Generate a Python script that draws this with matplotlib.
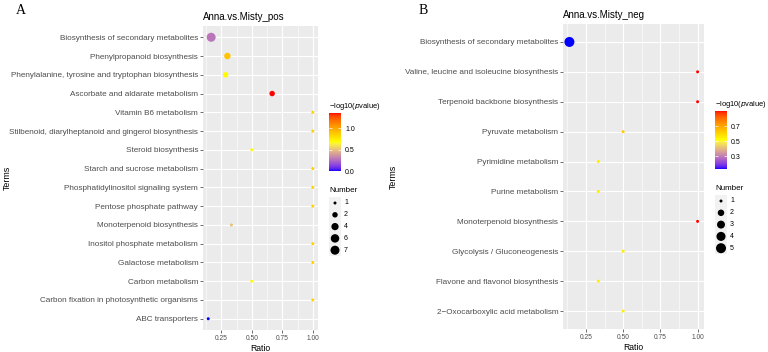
import numpy as np
import matplotlib
matplotlib.use("Agg")
import matplotlib.pyplot as plt
from matplotlib.colors import ListedColormap, Normalize
from matplotlib.cm import ScalarMappable

plt.rcParams['font.family'] = ['Liberation Sans', 'DejaVu Sans']

# ---- data ----
terms_a = ["Biosynthesis of secondary metabolites",
           "Phenylpropanoid biosynthesis",
           "Phenylalanine, tyrosine and tryptophan biosynthesis",
           "Ascorbate and aldarate metabolism",
           "Vitamin B6 metabolism",
           "Stilbenoid, diarylheptanoid and gingerol biosynthesis",
           "Steroid biosynthesis",
           "Starch and sucrose metabolism",
           "Phosphatidylinositol signaling system",
           "Pentose phosphate pathway",
           "Monoterpenoid biosynthesis",
           "Inositol phosphate metabolism",
           "Galactose metabolism",
           "Carbon metabolism",
           "Carbon fixation in photosynthetic organisms",
           "ABC transporters"]
ratio_a = [0.167, 0.30, 0.286, 0.667, 1.0, 1.0, 0.5, 1.0, 1.0, 1.0, 0.333, 1.0, 1.0, 0.5, 1.0, 0.143]
number_a = [7, 3, 2, 2, 1, 1, 1, 1, 1, 1, 1, 1, 1, 1, 1, 1]
logp_a = [0.28, 0.90, 0.70, 1.36, 0.85, 0.85, 0.70, 0.85, 0.85, 0.85, 0.50, 0.85, 0.85, 0.70, 0.85, 0.0]
size_breaks_a = [1, 2, 4, 6, 7]
cbar_ticks_a = [0.0, 0.5, 1.0]

terms_b = ["Biosynthesis of secondary metabolites",
           "Valine, leucine and isoleucine biosynthesis",
           "Terpenoid backbone biosynthesis",
           "Pyruvate metabolism",
           "Pyrimidine metabolism",
           "Purine metabolism",
           "Monoterpenoid biosynthesis",
           "Glycolysis / Gluconeogenesis",
           "Flavone and flavonol biosynthesis",
           "2\u2212Oxocarboxylic acid metabolism"]
ratio_b = [0.139, 1.0, 1.0, 0.5, 0.333, 0.333, 1.0, 0.5, 0.333, 0.5]
number_b = [5, 1, 1, 1, 1, 1, 1, 1, 1, 1]
logp_b = [0.135, 0.90, 0.90, 0.62, 0.55, 0.55, 0.90, 0.55, 0.55, 0.55]
size_breaks_b = [1, 2, 3, 4, 5]
cbar_ticks_b = [0.3, 0.5, 0.7]

x_ticks = [0.25, 0.50, 0.75, 1.00]


# ---- blue -> yellow -> red gradient, interpolated in Lab like ggplot ----
def srgb_to_lab(rgb):
    c = np.asarray(rgb, float)
    c = np.where(c > 0.04045, ((c + 0.055) / 1.055) ** 2.4, c / 12.92)
    M = np.array([[0.4124, 0.3576, 0.1805],
                  [0.2126, 0.7152, 0.0722],
                  [0.0193, 0.1192, 0.9505]])
    xyz = M @ c / np.array([0.95047, 1.0, 1.08883])
    f = np.where(xyz > 0.008856, np.cbrt(xyz), 7.787 * xyz + 16 / 116)
    return np.array([116 * f[1] - 16, 500 * (f[0] - f[1]), 200 * (f[1] - f[2])])


def lab_to_srgb(lab):
    L, a, b = lab
    fy_ = (L + 16) / 116
    f = np.array([fy_ + a / 500, fy_, fy_ - b / 200])
    xyz = np.where(f ** 3 > 0.008856, f ** 3, (f - 16 / 116) / 7.787)
    xyz = xyz * np.array([0.95047, 1.0, 1.08883])
    Mi = np.array([[3.2406, -1.5372, -0.4986],
                   [-0.9689, 1.8758, 0.0415],
                   [0.0557, -0.2040, 1.0570]])
    c = Mi @ xyz
    c = np.where(c > 0.0031308, 1.055 * np.clip(c, 0, None) ** (1 / 2.4) - 0.055, 12.92 * c)
    return np.clip(c, 0, 1)


stops = [srgb_to_lab(c) for c in [(0, 0, 1), (1, 1, 0), (1, 0, 0)]]
cols = []
for t in np.linspace(0, 1, 256):
    if t <= 0.5:
        u = t / 0.5
        lab = stops[0] * (1 - u) + stops[1] * u
    else:
        u = (t - 0.5) / 0.5
        lab = stops[1] * (1 - u) + stops[2] * u
    cols.append(lab_to_srgb(lab))
cmap = ListedColormap(cols)

fig = plt.figure(figsize=(7.68, 3.52), dpi=100)
W, H = 768, 352


def fx(px):
    return px / W


def fy(py):
    return 1 - py / H


def diam_to_s(d_px):
    return (d_px * 72 / 100) ** 2


def panel(terms, ratio, number, logp, breaks, cticks, title, letter,
          box, cbox, legy0, legdy, dmax, termx, letterx):
    l, t, r, b = box
    ax = fig.add_axes([fx(l), fy(b), fx(r - l), (b - t) / H])
    ax.set_facecolor('#EBEBEB')
    n = len(terms)
    y = np.arange(n)
    nmin, nmax = min(number), max(number)
    dmin = 3.0

    def size_of(v):
        return diam_to_s(dmin + (dmax - dmin) * np.sqrt((np.asarray(v, float) - nmin) / (nmax - nmin)))

    norm = Normalize(min(logp), max(logp))
    ax.scatter(ratio, y, s=size_of(number), c=logp, cmap=cmap, norm=norm,
               linewidths=0, zorder=3)
    xr = max(ratio) - min(ratio)
    ax.set_xlim(min(ratio) - 0.05 * xr, max(ratio) + 0.05 * xr)
    ax.set_ylim(n - 1 + 0.6, -0.6)
    ax.set_xticks(x_ticks)
    ax.set_xticklabels(["0.25", "0.50", "0.75", "1.00"])
    ax.set_xticks([0.125, 0.375, 0.625, 0.875], minor=True)
    ax.set_yticks(y)
    ax.set_yticklabels(terms)
    ax.grid(which='major', color='white', linewidth=0.8, zorder=0)
    ax.grid(which='minor', axis='x', color='white', linewidth=0.4, zorder=0)
    ax.set_axisbelow(True)
    for s in ax.spines.values():
        s.set_visible(False)
    ax.tick_params(which='major', length=2, width=0.5, color='#333333',
                   labelcolor='#4D4D4D', pad=1.5)
    ax.tick_params(axis='y', labelsize=5.9)
    ax.tick_params(axis='x', labelsize=4.8)
    ax.tick_params(which='minor', length=0)
    ax.set_xlabel("Ratio", fontsize=6.2, labelpad=1.5)
    ax.set_title(title, loc='left', fontsize=7, pad=4)
    fig.text(fx(termx), fy((t + b) / 2), "Terms", rotation=90, fontsize=6.4,
             ha='center', va='center')
    fig.text(fx(letterx), fy(10), letter, fontsize=10,
             family='Liberation Serif', ha='left', va='center')

    # colour bar
    cl, ct, cr, cb = cbox
    cax = fig.add_axes([fx(cl), fy(cb), fx(cr - cl), (cb - ct) / H])
    cbar = fig.colorbar(ScalarMappable(norm=norm, cmap=cmap), cax=cax, ticks=cticks)
    cbar.outline.set_visible(False)
    cax.tick_params(length=2.2, width=0.5, color='white', direction='in',
                    labelsize=5, pad=3, left=True)
    cax.set_yticklabels([f"{v:.1f}" for v in cticks])
    fig.text(fx(cl), fy(ct - 6), "\u2212log10($\\it{p}$value)", fontsize=5.4,
             ha='left', va='center')

    # size legend
    fig.text(fx(cl), fy(legy0 - 13), "Number", fontsize=5.8, ha='left', va='center')
    lax = fig.add_axes([fx(cl), fy(legy0 + (len(breaks) - 1) * legdy + legdy / 2),
                        fx(cr - cl), legdy * len(breaks) / H])
    lax.set_facecolor('#F2F2F2')
    lax.set_xlim(0, 1)
    lax.set_ylim(len(breaks) - 0.5, -0.5)
    lax.scatter([0.5] * len(breaks), range(len(breaks)), s=size_of(breaks),
                color='black', linewidths=0)
    lax.set_xticks([])
    lax.set_yticks([])
    for s in lax.spines.values():
        s.set_visible(False)
    for i, v in enumerate(breaks):
        fig.text(fx(cr + 3), fy(legy0 + i * legdy), str(v), fontsize=5,
                 ha='left', va='center')


panel(terms_a, ratio_a, number_a, logp_a, size_breaks_a, cbar_ticks_a,
      "Anna.vs.Misty_pos", "A", (203, 26, 318, 330), (329, 113, 341, 171),
      203, 11.8, 9.0, 7, 16)
panel(terms_b, ratio_b, number_b, logp_b, size_breaks_b, cbar_ticks_b,
      "Anna.vs.Misty_neg", "B", (563, 24, 704, 329), (715, 111, 727, 169),
      201, 11.8, 10.0, 393, 419)

fig.savefig("out.png", dpi=100)
